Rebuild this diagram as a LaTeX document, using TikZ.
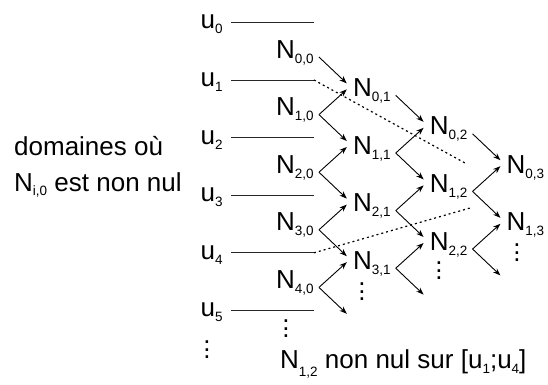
\documentclass[tikz,border=0pt]{standalone}
\usepackage{fontspec}
\setmainfont{Liberation Sans}
\usetikzlibrary{arrows.meta}

% lowered small index, as in N_{i,j}
\newcommand\lowsub[2][5pt]{\raisebox{-#1}{\fontsize{13.5}{14}\selectfont #2}}
% three stacked dots
\newcommand\coldots{\vbox{\baselineskip=7.5pt\lineskiplimit=0pt\hbox{.}\hbox{.}\hbox{.}}}

\begin{document}
\begin{tikzpicture}[x=1pt,y=-1pt,
  font=\fontsize{26}{30}\selectfont,
  lbl/.style={inner sep=0pt, anchor=base west},
  ulevel/.style={line width=1pt, black!85},
  conn/.style={line width=0.9pt, -{Stealth[length=7.5pt,width=5.5pt]}},
  cone/.style={line width=1.2pt, dash pattern=on 2pt off 3pt},
  dotsnode/.style={inner sep=0pt}]
\useasboundingbox (0,0) rectangle (548,384);

% knots u_i and their levels
\foreach \i in {0,...,5} {
  \node[lbl] (u\i) at (200.5,{28.9+57.6*\i}) {u\lowsub{\i}};
  \coordinate (ua\i) at (231,{22.4+57.6*\i});
  \coordinate (ub\i) at (314,{22.4+57.6*\i});
  \draw[ulevel] (ua\i) -- (ub\i);
}

% basis functions N_{i,j}
\foreach \i/\j in {0/0,1/0,2/0,3/0,4/0,0/1,1/1,2/1,3/1,0/2,1/2,2/2,0/3,1/3}
  \node[lbl] (n\i\j) at ({276+76.8*\j},{58+57.6*\i+38.4*\j}) {N\lowsub{\i,\j}};

% free ends of the last arrows
\coordinate (e41) at ({276+76.8},{58+57.6*4+38.4});
\coordinate (e32) at ({276+76.8*2},{58+57.6*3+38.4*2});
\coordinate (e23) at ({276+76.8*3},{58+57.6*2+38.4*3});

% recursion: N_{i,j} -> N_{i,j+1}
\foreach \i/\j in {0/0,1/0,2/0,3/0,0/1,1/1,2/1,0/2,1/2} {
  \pgfmathtruncatemacro\k{\j+1}
  \draw[conn] ([xshift=5pt,yshift=1pt]n\i\j.base east) -- ([xshift=-6pt,yshift=13pt]n\i\k.base west);
}
% recursion: N_{i,j} -> N_{i-1,j+1}
\foreach \i/\j in {1/0,2/0,3/0,4/0,1/1,2/1,3/1,1/2,2/2} {
  \pgfmathtruncatemacro\k{\j+1}
  \pgfmathtruncatemacro\h{\i-1}
  \draw[conn] ([xshift=5pt,yshift=1pt]n\i\j.base east) -- ([xshift=-6pt,yshift=7pt]n\h\k.base west);
}
\draw[conn] ([xshift=5pt,yshift=1pt]n40.base east) -- ([xshift=-6pt,yshift=13pt]e41);
\draw[conn] ([xshift=5pt,yshift=1pt]n31.base east) -- ([xshift=-6pt,yshift=13pt]e32);
\draw[conn] ([xshift=5pt,yshift=1pt]n22.base east) -- ([xshift=-6pt,yshift=13pt]e23);

% support cone of N_{1,2}
\coordinate (c1) at (465,163);
\coordinate (c4) at (470,208);
\draw[cone] (ub1) -- (c1);
\draw[cone] (ub4) -- (c4);

% continuation dots
\node[dotsnode] (du) at (207,350) {\coldots};
\node[dotsnode] (d0) at (286,329) {\coldots};
\node[dotsnode] (d1) at (362,292) {\coldots};
\node[dotsnode] (d2) at (439,271) {\coldots};
\node[dotsnode] (d3) at (517,253) {\coldots};

% captions
\node[lbl] (cap1) at (14,155.7) {domaines où};
\node[lbl] (cap2) at (14,191.7) {N\lowsub[4pt]{i,0} est non nul};
\node[lbl] (foot) at (280,368) {N\lowsub[8pt]{1,2} non nul sur [u\lowsub{1};u\lowsub{4}]};
\end{tikzpicture}
\end{document}
